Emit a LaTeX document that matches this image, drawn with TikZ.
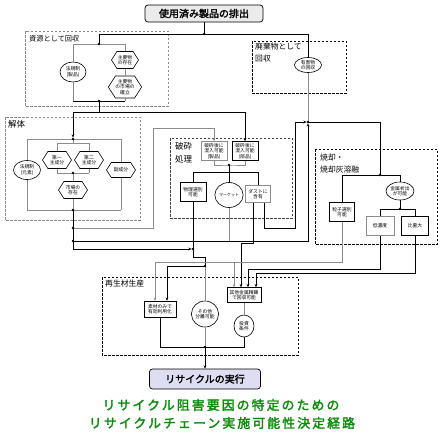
\documentclass[tikz,border=0pt]{standalone}
\usepackage{fontspec}
\newfontfamily\jp{Noto Sans CJK JP}
\newfontfamily\jpb[FakeBold=2]{Noto Sans CJK JP}
\newfontfamily\jpt[FakeBold=2.4,LetterSpace=17]{Noto Sans CJK JP}
\usetikzlibrary{shapes.geometric,shapes.symbols,arrows.meta}
\definecolor{lgray}{RGB}{140,140,140}
\definecolor{ttl}{RGB}{10,140,10}
\definecolor{lav}{RGB}{222,222,242}
\tikzset{
 sm/.style={font=\jp\fontsize{4.8}{5.5}\selectfont, align=center, inner sep=0pt, fill=white, line width=0.6pt},
 rbox/.style={sm, draw, rectangle},
 rboxg/.style={sm, draw=lgray, rectangle},
 ell/.style={sm, draw, ellipse},
 hexa/.style={sm, draw, signal, signal to=east and west, signal pointer angle=115},
 grpk/.style={draw, dash pattern=on 2.5pt off 1.5pt, line width=0.8pt},
 grpg/.style={draw=lgray, dash pattern=on 2.5pt off 1.5pt, line width=1pt},
 lbl/.style={font=\jp\fontsize{7.8}{12}\selectfont, anchor=north west, inner sep=0pt, align=left},
 bl/.style={line width=0.8pt},
 gl/.style={line width=0.8pt, draw=lgray},
 dot/.style={circle, fill, inner sep=0pt, minimum size=2.8pt},
 arr/.style={-{Stealth[length=3.2pt,width=2.8pt]}},
 mainbox/.style={draw, rounded corners=3pt, line width=0.7pt, font=\jpb\fontsize{10}{12}\selectfont, inner sep=0pt}
}
\begin{document}
\begin{tikzpicture}[x=1pt,y=-1pt]
\useasboundingbox (0,0) rectangle (442,434);

% ---------- groups ----------
\draw[grpg] (25,31) rectangle (168,106);
\draw[grpk] (252,41) rectangle (346,93);
\draw[grpg] (5,117) rectangle (140,220);
\draw[grpk, draw=black!75] (170,138) rectangle (292,218);
\draw[grpk] (315,149) rectangle (437,244);
\draw[grpk] (102,277) rectangle (298,355);
\node[lbl, font=\jp\fontsize{7.2}{12}\selectfont] (l1) at (29,35) {資源として回収};
\node[lbl] (l2) at (255,43) {廃棄物として\\回収};
\node[lbl, font=\jp\fontsize{8.5}{12}\selectfont] (l3) at (8,120) {解体};
\node[lbl, font=\jp\fontsize{8.5}{13}\selectfont] (l4) at (175,142) {破砕\\処理};
\node[lbl] (l5) at (320,154) {焼却・\\焼却灰溶融};
\node[lbl] (l6) at (105,280) {再生材生産};

% ---------- main boxes ----------
\node[mainbox, fill=black!8, minimum width=118, minimum height=17] (top) at (204,13.5) {使用済み製品の排出};
\node[mainbox, fill=lav, minimum width=111, minimum height=20] (bot) at (205,379) {リサイクルの実行};

% ---------- coordinates ----------
\coordinate (j0) at (204,34);
\coordinate (jA) at (99,34);
\coordinate (jB) at (308,34);
\coordinate (sT) at (99,44);
\coordinate (sTL) at (73,44);
\coordinate (sTR) at (125,44);
\coordinate (sB) at (99,101);
\coordinate (sBL) at (73,101);
\coordinate (sBR) at (125,101);
\coordinate (dA) at (99,112);
\coordinate (dL) at (73,112);
\coordinate (dR) at (245,112);
\coordinate (kT) at (73,139);
\coordinate (kTL) at (27,139);
\coordinate (kTR) at (121,139);
\coordinate (kiT) at (73,143);
\coordinate (kiTL) at (57,143);
\coordinate (kiTR) at (89,143);
\coordinate (kiB) at (73,173);
\coordinate (kiBL) at (57,173);
\coordinate (kiBR) at (89,173);
\coordinate (kB) at (73,210);
\coordinate (kBL) at (27,210);
\coordinate (kBR) at (121,210);
\coordinate (k1) at (73,228);
\coordinate (k2) at (73,241);
\coordinate (k3) at (73,249);
\coordinate (c1) at (153,128);
\coordinate (wJ) at (308,122);
\coordinate (wR) at (380,122);
\coordinate (iJ) at (380,175);
\coordinate (iA) at (342,175);
\coordinate (iB) at (400,175);
\coordinate (iJ2) at (400,209);
\coordinate (iC) at (380,209);
\coordinate (iD) at (415,209);
\coordinate (cB) at (229,165);
\coordinate (cB2) at (229,172);
\coordinate (bL) at (193,172);
\coordinate (bR) at (258,172);
\coordinate (pJ) at (193,249);
\coordinate (pK) at (193,257);
\coordinate (mJ) at (205,266);
\coordinate (mB) at (205,347);
\coordinate (e4o) at (229,241);
\coordinate (q1) at (241,243);
\coordinate (q2) at (295,228);
\coordinate (r1) at (155,262);
\coordinate (r2) at (234,262);
\coordinate (r3) at (248,269);
\coordinate (r4) at (256,273);

% ---------- condition nodes ----------
\node[ell, minimum width=26, minimum height=20] (E1) at (73,72) {法規制\\(製品)};
\node[hexa, minimum width=27, minimum height=17] (H1) at (125,60) {主要物\\の存在};
\node[hexa, minimum width=27, minimum height=22] (H2) at (125,87) {主要物\\の市場の\\確立};
\node[ell, minimum width=27, minimum height=15] (E2) at (308,65) {有害物\\の回収};

\node[ell, minimum width=27, minimum height=19] (E3) at (27,170) {法規制\\(元素)};
\node[hexa, minimum width=29, minimum height=17] (H3) at (57,160) {第一\\主成分};
\node[hexa, minimum width=29, minimum height=17] (H4) at (89,160) {第二\\主成分};
\node[hexa, minimum width=29, minimum height=17] (H5) at (73,190) {市場の\\存在};
\node[hexa, minimum width=29, minimum height=15] (H6) at (121,170) {副成分};

\node[rboxg, minimum width=26, minimum height=19] (B1) at (214,151) {破砕後に\\混入可能\\(製品)};
\node[rbox, minimum width=26, minimum height=19] (B2) at (245,151) {破砕後に\\混入可能\\(部品)};
\node[rbox, minimum width=26, minimum height=19] (B3) at (193,192) {物理選別\\可能};
\node[ell, minimum width=27, minimum height=25, font=\jp\fontsize{4}{5}\selectfont] (E4) at (229,195) {マーケット};
\node[rboxg, minimum width=25, minimum height=17] (B4) at (258,194) {ダストに\\含有};

\node[ell, minimum width=28, minimum height=18] (E5) at (400,191) {金属析出\\が可能};
\node[rbox, minimum width=25, minimum height=19] (P1) at (342,212) {粒子選別\\可能};
\node[rboxg, minimum width=28, minimum height=19] (P2) at (380,226) {低濃度};
\node[rbox, minimum width=27, minimum height=19] (P3) at (415,226) {比重大};

\node[rbox, minimum width=32, minimum height=16] (R1) at (160,309) {素材のみで\\有効利用化};
\node[rbox, minimum width=34, minimum height=15] (R2) at (244,295) {其他金属精錬\\で回収可能};
\node[ell, minimum width=22, minimum height=26] (E6) at (205,314) {その他\\分離可能};
\node[ell, minimum width=20, minimum height=22] (E7) at (244,326) {投資\\条件};

% ---------- top distribution ----------
\draw[bl] (top.south) -- (j0);
\draw[bl] (jA) -- (jB);
\draw[bl] (jA) -- (sT);
\draw[bl] (jB) -- (E2.north);
\draw[gl] (E2.south) -- (wJ);

% 資源として回収 ladder
\draw[gl] (sTL) -- (sTR);
\draw[gl] (sTL) -- (E1.north);
\draw[gl] (E1.south) -- (sBL);
\draw[gl] (sTR) -- (H1.north);
\draw[gl] (H1.south) -- (H2.north);
\draw[gl] (H2.south) -- (sBR);
\draw[bl] (sBL) -- (sBR);
\draw[bl] (sB) -- (dA);
\draw[bl] (dL) -- (dR);
\draw[bl, arr, shorten >=1.4pt] (dL) -- (kT);
\draw[bl, arr] (dR) -- (B2.north);

% 解体 ladder
\draw[gl] (kTL) -- (kTR);
\draw[gl] (kT) -- (kiT);
\draw[gl] (kiTL) -- (kiTR);
\draw[gl] (kiTL) -- (H3.north);
\draw[gl] (kiTR) -- (H4.north);
\draw[gl] (H3.south) -- (kiBL);
\draw[gl] (H4.south) -- (kiBR);
\draw[gl] (kiBL) -- (kiBR);
\draw[gl] (kiB) -- (H5.north);
\draw[gl] (H5.south) -- (kB);
\draw[gl] (kTL) -- (E3.north);
\draw[gl] (E3.south) -- (kBL);
\draw[gl] (kTR) -- (H6.north);
\draw[gl] (H6.south) -- (kBR);
\draw[gl] (kBL) -- (kBR);

% 解体 outputs
\draw[bl] (kB) -- (k3);
\draw[bl, arr, shorten >=1.4pt] (k3) -- (pJ);
\draw[gl, arr] (k1) -| (c1) -| (B1.north);
\draw[bl, arr, shorten >=1.4pt] (k2) -| (wJ);

% 破砕処理
\draw[gl] (B1.south) |- (cB) -| (B2.south);
\draw[bl] (cB) -- (cB2);
\draw[bl] (bL) -- (bR);
\draw[bl] (bL) -- (B3.north);
\draw[bl] (cB2) -- (E4.north);
\draw[bl] (bR) -- (B4.north);
\draw[bl] (B3.south) -- (pK) -| (mJ);
\draw[gl] (E4.south) -- (e4o);
\draw[bl, arr] ([xshift=-5pt]B4.south) |- (q1) -- (q1 |- R2.north);
\draw[bl, arr, shorten >=1.4pt] ([xshift=6pt]B4.south) |- (q2) |- (wJ);

% 焼却
\draw[bl] (wJ) -- (wR) -- (iJ);
\draw[bl] (iA) -- (iB);
\draw[bl] (iA) -- (P1.north);
\draw[bl] (iB) -- (E5.north);
\draw[bl] (E5.south) -- (iJ2);
\draw[bl] (iC) -- (iD);
\draw[bl] (iC) -- (P2.north);
\draw[bl] (iD) -- (P3.north);

% 焼却 outputs
\draw[gl] (P1.south) |- (r1);
\draw[gl, arr] (r1) -- (r1 |- R1.north);
\draw[gl, arr] (r2) -- (r2 |- R2.north);
\draw[bl, arr] (P2.south) |- (r3) -- (r3 |- R2.north);
\draw[bl, arr] (P3.south) |- (r4) -- (r4 |- R2.north);

% 再生材生産
\draw[bl, arr] (mJ) -| ([xshift=7pt]R1.north);
\draw[gl] (mJ) -- (E6.north);
\draw[gl] (E6.south) -- (mB);
\draw[gl] (R2.south) -- (E7.north);
\draw[bl] (R1.south) |- (mB);
\draw[bl] (E7.south) |- (mB);
\draw[bl, arr] (mB) -- (bot.north);

% dots
\node[dot] (d0) at (j0) {};
\node[dot] (d1) at (sT) {};
\node[dot] (d2) at (sB) {};
\node[dot] (d3) at (kT) {};
\node[dot] (d4) at (kiB) {};
\node[dot] (d5) at (kB) {};
\node[dot] (d6) at (k1) {};
\node[dot] (d7) at (k2) {};
\node[dot] (d8) at (wJ) {};
\node[dot] (d9) at (iJ) {};
\node[dot] (d10) at (iJ2) {};
\node[dot] (d11) at (cB) {};
\node[dot] (d12) at (pJ) {};
\node[dot] (d13) at (mJ) {};
\node[dot] (d14) at (mB) {};

% title
\node[font=\jpt\fontsize{12.8}{14}\selectfont, text=ttl, inner sep=0pt] (t1) at (221,405) {リサイクル阻害要因の特定のための};
\node[font=\jpt\fontsize{12.8}{14}\selectfont, text=ttl, inner sep=0pt] (t2) at (222,423) {リサイクルチェーン実施可能性決定経路};
\end{tikzpicture}
\end{document}
